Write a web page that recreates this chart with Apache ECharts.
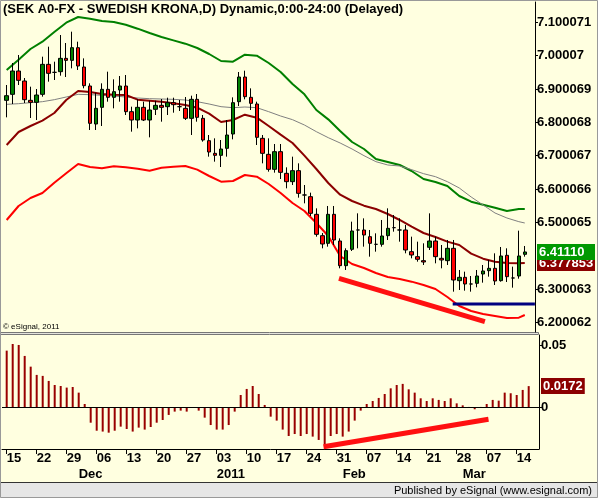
<!DOCTYPE html>
<html>
<head>
<meta charset="utf-8">
<script src="https://cdn.jsdelivr.net/npm/echarts@6/dist/echarts.min.js"></script>
<style>
  html, body { margin: 0; padding: 0; background: #ffffe0; }
  #chart { width: 598px; height: 498px; }
</style>
</head>
<body>
<div id="chart"></div>
<script>
// SEK A0-FX daily bars, Nov 15 2010 .. Mar 16 2011 (index 0 = Nov 15)
// each bar: [open, close, low, high]
const candles = [
  [6.866, 6.880, 6.815, 6.912], [6.884, 6.954, 6.855, 6.978], [6.954, 6.926, 6.912, 7.002],
  [6.924, 6.868, 6.858, 6.933], [6.866, 6.860, 6.813, 6.907], [6.860, 6.882, 6.807, 6.900],
  [6.884, 6.974, 6.877, 6.997], [6.974, 6.947, 6.922, 7.027], [6.950, 6.950, 6.927, 6.982],
  [6.952, 6.992, 6.940, 7.062], [6.992, 6.986, 6.936, 7.038], [6.986, 7.024, 6.962, 7.072],
  [7.024, 6.969, 6.957, 7.042], [6.966, 6.910, 6.902, 6.992], [6.909, 6.797, 6.777, 6.917],
  [6.795, 6.842, 6.777, 6.889], [6.845, 6.899, 6.789, 6.917], [6.899, 6.875, 6.862, 6.952],
  [6.875, 6.892, 6.842, 6.929], [6.897, 6.909, 6.862, 6.939], [6.909, 6.832, 6.822, 6.942],
  [6.832, 6.807, 6.772, 6.847], [6.807, 6.845, 6.782, 6.869], [6.845, 6.807, 6.804, 6.862],
  [6.807, 6.837, 6.755, 6.865], [6.839, 6.851, 6.822, 6.865], [6.851, 6.845, 6.802, 6.870],
  [6.847, 6.859, 6.822, 6.874], [6.859, 6.853, 6.829, 6.874], [6.847, 6.847, 6.834, 6.867],
  [6.842, 6.812, 6.807, 6.876], [6.812, 6.869, 6.762, 6.880], [6.869, 6.815, 6.802, 6.885],
  [6.812, 6.747, 6.742, 6.822], [6.745, 6.711, 6.697, 6.762], [6.707, 6.701, 6.682, 6.752],
  [6.701, 6.720, 6.666, 6.747], [6.722, 6.762, 6.697, 6.807], [6.765, 6.859, 6.749, 6.875],
  [6.862, 6.936, 6.849, 6.951], [6.936, 6.877, 6.869, 6.955], [6.875, 6.857, 6.837, 6.902],
  [6.855, 6.755, 6.732, 6.862], [6.752, 6.707, 6.677, 6.762], [6.704, 6.659, 6.652, 6.752],
  [6.659, 6.712, 6.649, 6.735], [6.712, 6.650, 6.630, 6.735], [6.647, 6.622, 6.602, 6.665],
  [6.622, 6.655, 6.612, 6.697], [6.655, 6.587, 6.574, 6.677], [6.582, 6.582, 6.557, 6.612],
  [6.577, 6.527, 6.519, 6.589], [6.524, 6.464, 6.457, 6.542], [6.460, 6.435, 6.422, 6.468],
  [6.437, 6.524, 6.427, 6.549], [6.524, 6.447, 6.432, 6.549], [6.444, 6.370, 6.362, 6.452],
  [6.370, 6.415, 6.357, 6.422], [6.419, 6.474, 6.414, 6.502], [6.477, 6.477, 6.422, 6.527],
  [6.477, 6.462, 6.427, 6.512], [6.457, 6.437, 6.397, 6.477], [6.434, 6.434, 6.412, 6.467],
  [6.434, 6.459, 6.427, 6.507], [6.460, 6.482, 6.447, 6.542], [6.484, 6.484, 6.472, 6.522],
  [6.477, 6.477, 6.442, 6.512], [6.477, 6.417, 6.407, 6.492], [6.412, 6.402, 6.392, 6.457],
  [6.397, 6.389, 6.382, 6.442], [6.385, 6.381, 6.372, 6.437], [6.425, 6.444, 6.417, 6.527],
  [6.444, 6.397, 6.377, 6.457], [6.392, 6.387, 6.362, 6.432], [6.385, 6.422, 6.372, 6.447],
  [6.422, 6.327, 6.292, 6.447], [6.325, 6.335, 6.297, 6.357], [6.335, 6.315, 6.295, 6.352],
  [6.315, 6.315, 6.292, 6.339], [6.317, 6.339, 6.305, 6.357], [6.345, 6.354, 6.319, 6.372],
  [6.355, 6.362, 6.337, 6.387], [6.362, 6.324, 6.312, 6.407], [6.325, 6.399, 6.322, 6.426],
  [6.401, 6.337, 6.321, 6.422], [6.333, 6.333, 6.304, 6.367], [6.339, 6.399, 6.331, 6.475],
  [6.404, 6.4111, 6.397, 6.429]
];

// band studies, read every second bar (plus the last one)
const bandDays = [0, 2, 4, 6, 8, 10, 12, 14, 16, 18, 20, 22, 24, 26, 28, 30, 32, 34, 36, 38, 40, 42,
  44, 46, 48, 50, 52, 54, 56, 58, 60, 62, 64, 66, 68, 70, 72, 74, 76, 78, 80, 82, 84, 86, 87];
const upperBand = [6.957, 6.988, 7.020, 7.042, 7.071, 7.099, 7.116, 7.111, 7.104, 7.101, 7.093, 7.081,
  7.068, 7.056, 7.046, 7.036, 7.023, 7.005, 6.984, 6.982, 7.003, 7.000, 6.978, 6.951, 6.915, 6.884,
  6.837, 6.809, 6.774, 6.741, 6.720, 6.690, 6.681, 6.672, 6.654, 6.630, 6.621, 6.609, 6.579, 6.562,
  6.553, 6.544, 6.534, 6.540, 6.540];
const grayLine = [6.854, 6.856, 6.859, 6.862, 6.868, 6.876, 6.884, 6.883, 6.881, 6.879, 6.876, 6.873,
  6.871, 6.870, 6.869, 6.867, 6.862, 6.855, 6.847, 6.844, 6.846, 6.844, 6.832, 6.819, 6.808, 6.792,
  6.772, 6.754, 6.738, 6.720, 6.700, 6.682, 6.672, 6.669, 6.658, 6.646, 6.637, 6.622, 6.603, 6.576,
  6.552, 6.528, 6.513, 6.502, 6.498];
const midLine = [6.732, 6.771, 6.789, 6.805, 6.828, 6.867, 6.894, 6.891, 6.885, 6.883, 6.882, 6.868,
  6.865, 6.862, 6.857, 6.852, 6.844, 6.826, 6.801, 6.807, 6.823, 6.814, 6.789, 6.763, 6.738, 6.700,
  6.660, 6.618, 6.583, 6.564, 6.550, 6.540, 6.525, 6.507, 6.487, 6.468, 6.456, 6.442, 6.432, 6.406,
  6.391, 6.382, 6.378, 6.377, 6.377853];
const lowerBand = [6.507, 6.549, 6.573, 6.588, 6.619, 6.647, 6.675, 6.666, 6.662, 6.668, 6.665, 6.661,
  6.655, 6.664, 6.667, 6.669, 6.658, 6.639, 6.622, 6.624, 6.642, 6.637, 6.615, 6.588, 6.558, 6.534,
  6.498, 6.459, 6.399, 6.375, 6.363, 6.348, 6.336, 6.330, 6.322, 6.312, 6.300, 6.276, 6.249, 6.234,
  6.225, 6.219, 6.213, 6.214, 6.222];

// oscillator histogram, one value per bar
const oscillator = [
  0.0460, 0.0514, 0.0506, 0.0417, 0.0330, 0.0263, 0.0255, 0.0214, 0.0181, 0.0173,
  0.0160, 0.0165, 0.0119, 0.0027, -0.0125, -0.0190, -0.0197, -0.0206, -0.0190, -0.0157,
  -0.0176, -0.0197, -0.0165, -0.0181, -0.0160, -0.0125, -0.0103, -0.0062, -0.0035, -0.0027,
  -0.0035, -0.0003, -0.0027, -0.0084, -0.0144, -0.0181, -0.0181, -0.0144, -0.0035, 0.0100,
  0.0149, 0.0173, 0.0108, 0.0019, -0.0076, -0.0108, -0.0181, -0.0233, -0.0217, -0.0233,
  -0.0217, -0.0238, -0.0265, -0.0298, -0.0233, -0.0217, -0.0238, -0.0197, -0.0108, -0.0027,
  0.0027, 0.0051, 0.0076, 0.0108, 0.0154, 0.0181, 0.0190, 0.0146, 0.0119, 0.0073,
  0.0051, 0.0073, 0.0060, 0.0051, 0.0073, 0.0032, 0.0016, 0.0003, -0.0016, 0.0003,
  0.0027, 0.0060, 0.0054, 0.0119, 0.0114, 0.0100, 0.0141, 0.0172
];

// hand drawn annotations: [bar index, value]
const priceTrend = [[55.8, 6.332], [80.3, 6.202]];
const supportLine = [[74.9, 6.255], [88.7, 6.255]];
const oscTrend = [[52.8, -0.0320], [80.3, -0.0097]];

// axis ticks and labels
const priceTicks = [6.200062, 6.300063, 6.500065, 6.600066, 6.700067, 6.800068, 6.900069, 7.00007, 7.100071];
const lastClose = 6.4111;
const lastMid = 6.377853;
const lastOsc = 0.0172;
const oscTicks = [0, 0.05];
const dayTicks = [0, 5, 10, 15, 20, 25, 30, 35, 40, 45, 50, 55, 60, 65, 70, 75, 80, 85];
const dayLabels = ['15', '22', '29', '06', '13', '20', '27', '03', '10', '17', '24', '31', '07', '14', '21', '28', '07', '14'];
const monthTicks = [12, 35, 56, 76];
const monthLabels = ['Dec', '2011', 'Feb', 'Mar'];

const xMin = -0.783, xMax = 88.717;
const priceMin = 6.17096, priceMax = 7.16105;
const font = 'Liberation Sans, Arial, sans-serif';
const boldLabel = { fontFamily: font, fontWeight: 'bold', fontSize: 13, color: '#000' };

function pairs(days, values) {
  return days.map((d, k) => [d, values[k]]);
}

// a price axis that only carries one coloured value tag
function tagAxis(value, text, bg) {
  return {
    gridIndex: 0, type: 'value', position: 'right', min: priceMin, max: priceMax,
    splitLine: { show: false }, axisLine: { show: false }, axisTick: { show: false },
    axisLabel: {
      customValues: [value], margin: 2, hideOverlap: false,
      formatter: () => text,
      fontFamily: font, fontWeight: 'bold', fontSize: 13, color: '#fff',
      backgroundColor: bg, width: 54, padding: [2, 2, 1, 2]
    }
  };
}

const chart = echarts.init(document.getElementById('chart'));

const option = {
  animation: false,
  backgroundColor: '#ffffe0',
  title: [
    {
      text: '(SEK A0-FX - SWEDISH KRONA,D) Dynamic,0:00-24:00 (Delayed)',
      left: 3, top: 3, padding: 0,
      textStyle: { fontFamily: font, fontWeight: 'bold', fontSize: 13, color: '#000' }
    },
    {
      text: '© eSignal, 2011',
      left: 3, top: 323, padding: 0,
      textStyle: { fontFamily: font, fontWeight: 'normal', fontSize: 8, color: '#000' }
    },
    {
      text: 'Published by eSignal (www.esignal.com)',
      right: 6, top: 485, padding: 0,
      textStyle: { fontFamily: font, fontWeight: 'normal', fontSize: 11, color: '#000' }
    }
  ],
  graphic: [
    { type: 'rect', z: -1, shape: { x: 0, y: 483, width: 598, height: 15 }, style: { fill: '#e6e6e6' } },
    { type: 'line', shape: { x1: 0, y1: 482.5, x2: 598, y2: 482.5 }, style: { stroke: '#333', lineWidth: 1 } },
    { type: 'rect', shape: { x: 0.5, y: 332.5, width: 538, height: 2 }, style: { fill: '#e4e4dc', stroke: '#777', lineWidth: 1 } },
    { type: 'rect', shape: { x: 0.5, y: 0.5, width: 597, height: 497 }, style: { fill: 'rgba(0,0,0,0)', stroke: '#999', lineWidth: 1 } }
  ],
  grid: [
    { left: 2, right: 59, top: 2, height: 330 },
    { left: 2, right: 59, top: 335, height: 114 }
  ],
  xAxis: [
    { gridIndex: 0, type: 'value', min: xMin, max: xMax, show: false, splitLine: { show: false } },
    {
      gridIndex: 1, type: 'value', min: xMin, max: xMax, position: 'bottom',
      splitLine: { show: false },
      axisLine: { show: true, onZero: false, lineStyle: { color: '#000', width: 1 } },
      axisTick: { show: true, customValues: dayTicks, length: 5, lineStyle: { color: '#000' } },
      axisLabel: {
        customValues: dayTicks, align: 'left', margin: 3, hideOverlap: false, ...boldLabel,
        formatter: v => dayLabels[dayTicks.indexOf(v)]
      }
    },
    {
      gridIndex: 1, type: 'value', min: xMin, max: xMax, position: 'bottom', offset: 16,
      splitLine: { show: false }, axisLine: { show: false }, axisTick: { show: false },
      axisLabel: {
        customValues: monthTicks, align: 'left', margin: 3, hideOverlap: false, ...boldLabel,
        formatter: v => monthLabels[monthTicks.indexOf(v)]
      }
    }
  ],
  yAxis: [
    {
      gridIndex: 0, type: 'value', position: 'right', min: priceMin, max: priceMax,
      splitLine: { show: false },
      axisLine: { show: true, onZero: false, lineStyle: { color: '#000' } },
      axisTick: { show: true, customValues: priceTicks, length: 3, lineStyle: { color: '#000' } },
      axisLabel: {
        customValues: priceTicks, margin: 2, hideOverlap: false, ...boldLabel,
        formatter: v => String(v)
      }
    },
    {
      gridIndex: 1, type: 'value', position: 'right', min: -0.03385, max: 0.05869,
      splitLine: { show: false },
      axisLine: { show: true, onZero: false, lineStyle: { color: '#000' } },
      axisTick: { show: true, customValues: oscTicks, length: 3, lineStyle: { color: '#000' } },
      axisLabel: {
        customValues: [...oscTicks, lastOsc], margin: 2, hideOverlap: false, ...boldLabel,
        formatter: v => Math.abs(v - lastOsc) < 1e-7 ? '{tag|' + lastOsc + '}' : String(v),
        rich: {
          tag: { backgroundColor: '#8b0000', color: '#fff', fontFamily: font, fontWeight: 'bold', fontSize: 13, padding: [2, 2, 1, 2] }
        }
      }
    },
    tagAxis(lastMid, String(lastMid), '#8b0000'),
    tagAxis(lastClose, lastClose.toFixed(5), '#009900')
  ],
  series: [
    {
      name: 'upper', type: 'line', xAxisIndex: 0, yAxisIndex: 0, z: 1,
      data: pairs(bandDays, upperBand), showSymbol: false,
      lineStyle: { color: '#008000', width: 2 }
    },
    {
      name: 'avg', type: 'line', xAxisIndex: 0, yAxisIndex: 0, z: 1,
      data: pairs(bandDays, grayLine), showSymbol: false,
      lineStyle: { color: '#808080', width: 1 }
    },
    {
      name: 'mid', type: 'line', xAxisIndex: 0, yAxisIndex: 0, z: 1,
      data: pairs(bandDays, midLine), showSymbol: false,
      lineStyle: { color: '#8b0000', width: 2 }
    },
    {
      name: 'lower', type: 'line', xAxisIndex: 0, yAxisIndex: 0, z: 1,
      data: pairs(bandDays, lowerBand), showSymbol: false,
      lineStyle: { color: '#ff0000', width: 2 }
    },
    {
      name: 'SEK', type: 'candlestick', xAxisIndex: 0, yAxisIndex: 0, z: 3,
      data: candles.map((c, i) => [i, c[0], c[1], c[2], c[3]]),
      encode: { x: 0, y: [1, 2, 3, 4] },
      barWidth: 4,
      itemStyle: {
        color: '#008000', color0: '#ff0000',
        borderColor: '#000', borderColor0: '#000', borderColorDoji: '#000', borderWidth: 1
      }
    },
    {
      name: 'trend', type: 'line', xAxisIndex: 0, yAxisIndex: 0, z: 4,
      data: priceTrend, showSymbol: false,
      lineStyle: { color: '#ff1010', width: 5 }
    },
    {
      name: 'support', type: 'line', xAxisIndex: 0, yAxisIndex: 0, z: 4,
      data: supportLine, showSymbol: false,
      lineStyle: { color: '#000080', width: 3 }
    },
    {
      name: 'osc', type: 'bar', xAxisIndex: 1, yAxisIndex: 1,
      data: oscillator.map((v, i) => [i, v]),
      barWidth: 2,
      itemStyle: { color: '#990000' },
      markLine: {
        silent: true, symbol: 'none', label: { show: false },
        lineStyle: { color: '#000', width: 1, type: 'solid' },
        data: [{ yAxis: 0 }]
      }
    },
    {
      name: 'oscTrend', type: 'line', xAxisIndex: 1, yAxisIndex: 1, z: 4,
      data: oscTrend, showSymbol: false,
      lineStyle: { color: '#ff1010', width: 5 }
    }
  ]
};

chart.setOption(option);
</script>
</body>
</html>
